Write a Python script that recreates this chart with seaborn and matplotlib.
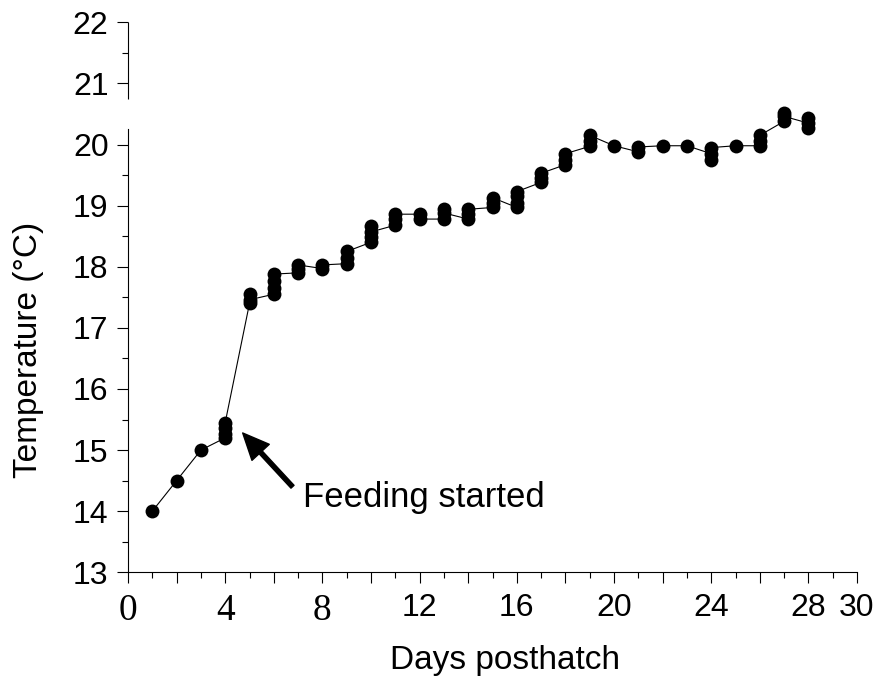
import matplotlib
matplotlib.use("Agg")
import matplotlib.pyplot as plt
import seaborn as sns
import pandas as pd
from matplotlib.ticker import FixedLocator, FixedFormatter

# ---- data ----
day = [1, 2, 3,
       4, 4, 4, 4,
       5, 5, 5,
       6, 6, 6, 6,
       7, 7, 7,
       8, 8,
       9, 9, 9,
       10, 10, 10, 10,
       11, 11, 11,
       12, 12,
       13, 13, 13,
       14, 14, 14,
       15, 15, 15,
       16, 16, 16, 16,
       17, 17, 17,
       18, 18, 18,
       19, 19, 19,
       20,
       21, 21,
       22,
       23,
       24, 24, 24,
       25,
       26, 26, 26,
       27, 27, 27,
       28, 28, 28]
temperature = [14.0, 14.5, 15.0,
               15.2, 15.27, 15.36, 15.45,
               17.4, 17.55, 17.46,
               17.55, 17.65, 17.76, 17.88,
               17.9, 17.97, 18.03,
               17.97, 18.03,
               18.05, 18.15, 18.25,
               18.4, 18.66, 18.48, 18.57,
               18.68, 18.78, 18.86,
               18.86, 18.78,
               18.78, 18.94, 18.88,
               18.78, 18.86, 18.94,
               18.97, 19.05, 19.13,
               18.97, 19.05, 19.15, 19.23,
               19.38, 19.45, 19.53,
               19.67, 19.75, 19.85,
               19.97, 20.05, 20.15,
               19.98,
               19.88, 19.96,
               19.98,
               19.98,
               19.85, 19.75, 19.95,
               19.98,
               19.98, 20.05, 20.15,
               20.38, 20.52, 20.46,
               20.35, 20.27, 20.43]

x_ticks = list(range(0, 31, 2))
x_tick_labels = ["0", "", "4", "", "8", "", "12", "", "16", "", "20", "", "24", "", "28", "30"]
x_minor = list(range(1, 30, 2))
y_ticks = list(range(13, 23))
y_minor = [13.5, 14.5, 15.5, 16.5, 17.5, 18.5, 19.5, 21.5]
serif_labels = ["0", "4", "8"]

df = pd.DataFrame({"day": day, "temperature": temperature})

sns.set_theme(style="ticks")
plt.rcParams["font.family"] = ["Liberation Sans", "DejaVu Sans"]

fig = plt.figure(figsize=(8.94, 6.76), dpi=100)
ax = fig.add_axes([128 / 894, 1 - 572.3 / 676, 729 / 894, 550 / 676])

sns.lineplot(data=df, x="day", y="temperature", sort=False, estimator=None,
             color="black", linewidth=0.8, ax=ax, zorder=2)
sns.scatterplot(data=df, x="day", y="temperature", color="black", s=100,
                linewidth=0, ax=ax, zorder=3)

ax.set_xlim(0, 30)
ax.set_ylim(13, 22)

ax.xaxis.set_major_locator(FixedLocator(x_ticks))
ax.xaxis.set_major_formatter(FixedFormatter(x_tick_labels))
ax.xaxis.set_minor_locator(FixedLocator(x_minor))
ax.yaxis.set_major_locator(FixedLocator(y_ticks))
ax.yaxis.set_minor_locator(FixedLocator(y_minor))

ax.tick_params(axis="both", which="major", direction="out", length=8,
               width=0.8, color="black", labelsize=23, labelcolor="black")
ax.tick_params(axis="both", which="minor", direction="out", length=4.5,
               width=0.8, color="black")
ax.tick_params(axis="x", which="major", pad=7)
ax.tick_params(axis="y", which="major", pad=6)

for lab in ax.get_xticklabels():
    if lab.get_text() in serif_labels:
        lab.set_fontfamily(["Liberation Serif", "DejaVu Serif"])
        lab.set_fontsize(27)

for side in ["top", "right"]:
    ax.spines[side].set_visible(False)
for side in ["left", "bottom"]:
    ax.spines[side].set_color("black")
    ax.spines[side].set_linewidth(0.8)
# broken left axis (gap between 20.26 and 20.75 as in the reference)
ax.spines["left"].set_bounds(13, 20.26)
ax.plot([0, 0], [20.75, 22], color="black", linewidth=0.8, clip_on=False,
        solid_capstyle="butt", zorder=1)

ax.set_xlabel("Days posthatch", fontsize=24, color="black")
ax.xaxis.set_label_coords((505 - 128) / 729, (572.3 - 660) / 550)
ax.xaxis.label.set_verticalalignment("center")

ax.set_ylabel("Temperature (°C)", fontsize=24, color="black")
ax.yaxis.set_label_coords((29 - 128) / 729, (572.3 - 350) / 550)
ax.yaxis.label.set_verticalalignment("center")

# annotation
ax.annotate("", xy=(4.72, 15.28), xytext=(6.77, 14.40),
            arrowprops=dict(facecolor="black", edgecolor="black", width=3,
                            headwidth=17, headlength=19, shrink=0))
ax.text(7.22, 14.23, "Feeding started", fontsize=25, color="black",
        ha="left", va="center")

fig.savefig("out.png", dpi=100, facecolor="white")
